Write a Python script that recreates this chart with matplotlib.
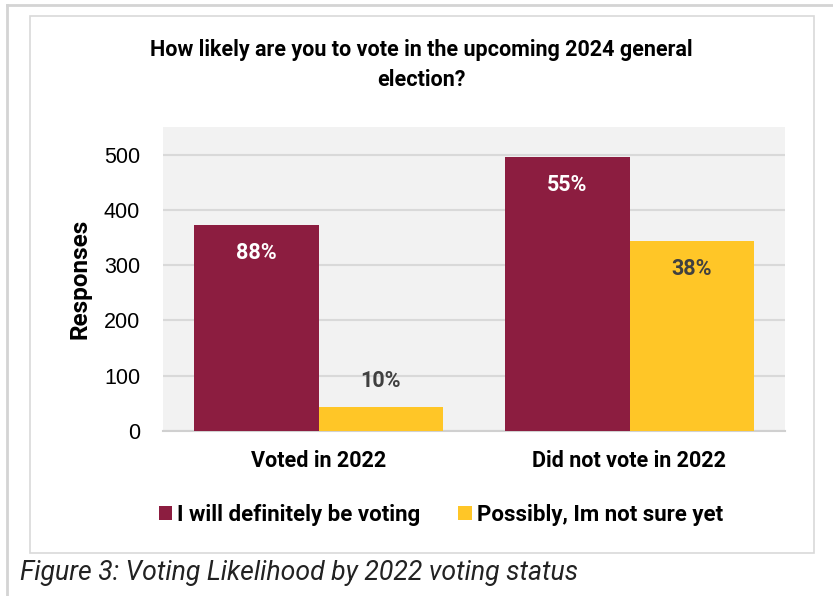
import matplotlib.pyplot as plt
import numpy as np
from matplotlib.patches import Rectangle
from matplotlib.lines import Line2D

# survey results
groups = ["Voted in 2022", "Did not vote in 2022"]
series = ["I will definitely be voting", "Possibly, Im not sure yet"]
definitely = [372, 495]
possibly = [43, 343]
definitely_pct = ["88%", "55%"]
possibly_pct = ["10%", "38%"]
yticks = [0, 100, 200, 300, 400, 500]

maroon = "#8C1D40"
gold = "#FFC627"

plt.rcParams["font.family"] = ["Roboto", "DejaVu Sans"]

fig = plt.figure(figsize=(8.33, 5.96), dpi=100)

# outer frame and chart box
fig.add_artist(Line2D([7 / 833, 1.0], [1 - 5 / 596, 1 - 5 / 596], color="#d4d4d4", lw=2, transform=fig.transFigure))
fig.add_artist(Line2D([7 / 833, 7 / 833], [1 - 5 / 596, 0], color="#d4d4d4", lw=2, transform=fig.transFigure))
fig.add_artist(Rectangle((30 / 833, 1 - 553 / 596), (814 - 30) / 833, (553 - 16) / 596,
                         fill=False, edgecolor="#d9d9d9", lw=1.2, transform=fig.transFigure))

ax = fig.add_axes([163 / 833, 1 - 431 / 596, (785 - 163) / 833, (431 - 127) / 596])
ax.set_facecolor("#f2f2f2")

x = np.arange(len(groups))
w = 0.4
b1 = ax.bar(x - w / 2, definitely, w, color=maroon, label=series[0], zorder=3)
b2 = ax.bar(x + w / 2, possibly, w, color=gold, label=series[1], zorder=3)

ax.set_xlim(-0.5, 1.5)
ax.set_ylim(0, 550)
ax.set_yticks(yticks)
ax.yaxis.grid(True, color="#d9d9d9", lw=1.5, zorder=0)
for s in ["top", "right", "left"]:
    ax.spines[s].set_visible(False)
ax.spines["bottom"].set_color("#d0d0d0")
ax.spines["bottom"].set_linewidth(1.5)
ax.tick_params(axis="both", length=0)
ax.tick_params(axis="y", pad=16.5)
ax.tick_params(axis="x", pad=14)
for lbl in ax.get_yticklabels():
    lbl.set_family("Liberation Sans")
    lbl.set_fontsize(15.5)
ax.set_xticks(x)
ax.set_xticklabels(groups, fontsize=15.5, fontweight="bold")
ax.set_ylabel("Responses", fontsize=17.5, fontweight="bold", labelpad=9)

# percentage labels
for rect, txt in zip(b1, definitely_pct):
    ax.annotate(txt, (rect.get_x() + rect.get_width() / 2, rect.get_height()),
                xytext=(0, -20), textcoords="offset points", ha="center", va="center",
                color="white", fontsize=15.5, fontweight="bold", zorder=4)
for rect, txt in zip(b2, possibly_pct):
    off = 19 if rect.get_height() < 100 else -20
    ax.annotate(txt, (rect.get_x() + rect.get_width() / 2, rect.get_height()),
                xytext=(0, off), textcoords="offset points", ha="center", va="center",
                color="#404040", fontsize=15.5, fontweight="bold", zorder=4)

fig.text(421 / 833, 1 - 65 / 596,
         "How likely are you to vote in the upcoming 2024 general\nelection?",
         ha="center", va="center", fontsize=15.5, fontweight="bold", linespacing=1.5)

fig.legend(loc="center", bbox_to_anchor=(441 / 833, 1 - 515 / 596), ncol=2, frameon=False,
           prop={"size": 16, "weight": "bold"}, handlelength=0.6, handleheight=0.6,
           handletextpad=0.25, columnspacing=1.7)

fig.text(20 / 833, 1 - 573 / 596, "Figure 3: Voting Likelihood by 2022 voting status",
         ha="left", va="center", fontsize=19.2, style="italic", color="#222222")

fig.savefig("out.png", dpi=100)
